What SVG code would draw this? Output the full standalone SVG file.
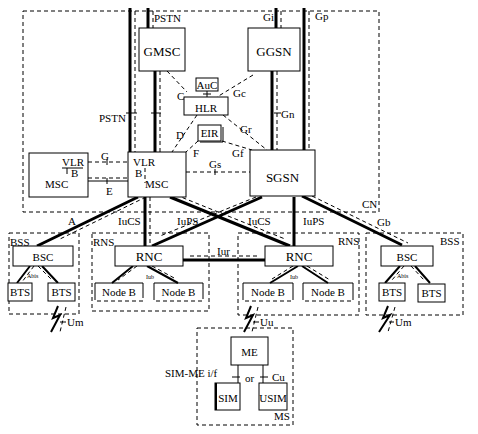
<svg xmlns="http://www.w3.org/2000/svg" width="478" height="434" viewBox="0 0 478 434">
<style>
.box{fill:#fff;stroke:#000;stroke-width:1}
.dbox{fill:none;stroke:#000;stroke-width:1;stroke-dasharray:4 3}
.thick{stroke:#000;stroke-width:3;fill:none}
.med{stroke:#000;stroke-width:2;fill:none}
.dash{stroke:#000;stroke-width:1;stroke-dasharray:4 3;fill:none}
.thin{stroke:#000;stroke-width:1;fill:none}
text{font-family:"Liberation Serif","Times New Roman",serif;fill:#000}
.n{font-size:13px;text-anchor:middle}
.ns{font-size:11px;text-anchor:middle}
.l{font-size:11px}
.s{font-size:6px}
</style>
<rect width="478" height="434" fill="#fff"/>
<g id="containers">
<rect id="CN" class="dbox" x="23" y="11" width="356" height="201"/>
<rect id="BSS-left" class="dbox" x="9" y="233" width="70" height="81"/>
<rect id="RNS-left" class="dbox" x="92" y="233" width="117" height="78"/>
<rect id="RNS-right" class="dbox" x="238" y="233" width="121" height="82"/>
<rect id="BSS-right" class="dbox" x="366" y="233" width="97" height="82"/>
<rect id="MS" class="dbox" x="197" y="328" width="96" height="97"/>
</g>
<g id="connectors">
<path class="thick" d="M130,8V152M148,8V28M155,71V152M276,8V28M272,71V150M304,8V150"/>
<path class="dash" d="M135,11V152M153,11V28M160,71V152M281,11V28M277,71V150M309,11V150"/>
<path class="thin" d="M126,113H137M151,113H161M274,113H281"/>
<path class="dash" d="M88,162H128M88,178H128M186,172H250"/>
<path class="thin" d="M88,181H128M107,159V165M107,178V184M215,169V175"/>
<path class="dash" d="M167,71L187,92M253,75L217,97M197,115L172,152M223,115L267,150M198,141L186,152M222,141L252,150"/>
<path class="thin" d="M207,91V97M203,94H211"/>
<path class="thick" d="M138,197L37,246M145,197V246M170,197L290,246M262,197L152,246M294,197V246M302,196L402,245"/>
<path class="dash" d="M146,197L60,239M150,197V246M176,195L285,239M256,197L160,236M312,196L408,243"/>
<path class="med" d="M30,266L17,283M42,266L58,283M133,266L112,283M147,266L178,283M298,266L270,283M302,266L328,283M400,266L385,283M415,266L430,283"/>
<path class="dash" d="M34,266L22,282M38,266L52,280M137,266L118,280M152,266L176,279M293,266L272,279M307,266L330,280M404,266L392,280M411,266L424,280"/>
<path class="thick" d="M183,260H265"/>
<path class="dash" d="M190,256H258"/>
<polyline class="med" points="58,306 53,318 60,315 51,332"/>
<path class="dash" d="M66,307L60,332"/>
<path class="thin" d="M60,322H66"/>
<polyline class="med" points="251,306 246,318 253,315 244,332"/>
<path class="dash" d="M258,307L252,332"/>
<path class="thin" d="M253,322H259"/>
<polyline class="med" points="388,306 383,318 390,315 379,332"/>
<path class="dash" d="M395,307L388,332"/>
<path class="thin" d="M389,322H394"/>
<path class="thin" d="M238,365V383M263,365V383M232,377H240M260,377H268"/>
</g>
<g id="labels">
<text class="l" x="154" y="22">PSTN</text>
<text class="l" x="263" y="21">Gi</text>
<text class="l" x="315" y="20">Gp</text>
<text class="l" x="99" y="122">PSTN</text>
<text class="l" x="177" y="100">C</text>
<text class="l" x="233" y="97">Gc</text>
<text class="l" x="176" y="139">D</text>
<text class="l" x="240" y="133">Gr</text>
<text class="l" x="193" y="157">F</text>
<text class="l" x="232" y="157">Gf</text>
<text class="l" x="209" y="168">Gs</text>
<text class="l" x="281" y="118">Gn</text>
<text class="l" x="101" y="160">G</text>
<text class="l" x="106" y="195">E</text>
<text class="l" x="362" y="208">CN</text>
<text class="l" x="68" y="225">A</text>
<text class="l" x="118" y="225">IuCS</text>
<text class="l" x="177" y="225">IuPS</text>
<text class="l" x="248" y="225">IuCS</text>
<text class="l" x="303" y="225">IuPS</text>
<text class="l" x="377" y="226">Gb</text>
<text class="l" x="10" y="246">BSS</text>
<text class="l" x="93" y="246">RNS</text>
<text class="l" x="338" y="245">RNS</text>
<text class="l" x="440" y="245">BSS</text>
<text class="l" x="217" y="255">Iur</text>
<text class="s" x="27" y="278">Abis</text>
<text class="s" x="146" y="279">Iub</text>
<text class="s" x="290" y="279">Iub</text>
<text class="s" x="397" y="278">Abis</text>
<text class="l" x="67" y="326">Um</text>
<text class="l" x="260" y="326">Uu</text>
<text class="l" x="395" y="326">Um</text>
<text class="l" x="165" y="377" font-size="12">SIM-ME i/f</text>
<text class="l" x="245" y="382">or</text>
<text class="l" x="272" y="381">Cu</text>
<text class="l" x="274" y="420">MS</text>
</g>
<g id="GMSC"><rect class="box" x="139" y="28" width="46" height="43"/><text class="n" x="162" y="56">GMSC</text></g>
<g id="GGSN"><rect class="box" x="248" y="28" width="52" height="43"/><text class="n" x="274" y="56">GGSN</text></g>
<g id="AuC"><rect class="box" x="196" y="78" width="22" height="13"/><text class="ns" x="207" y="89" font-size="10">AuC</text></g>
<g id="HLR"><rect class="box" x="184" y="97" width="44" height="18"/><text class="ns" x="206" y="112">HLR</text></g>
<g id="EIR"><path class="thin" d="M200,142H223V127"/><rect class="box" x="198" y="125" width="23" height="16"/><text class="ns" x="209.5" y="137" font-size="9">EIR</text></g>
<g id="MSC-VLR"><rect class="box" x="128" y="152" width="58" height="45"/><text class="l" x="133" y="166">VLR</text><text class="l" x="135" y="177">B</text><path class="dash" d="M145,168V183"/><text class="l" x="145" y="188" font-size="12">MSC</text></g>
<g id="SGSN"><rect class="box" x="250" y="150" width="65" height="46"/><text class="n" x="282.5" y="182">SGSN</text></g>
<g id="MSC-left"><rect class="box" x="29" y="153" width="59" height="44"/><text class="l" x="62" y="166">VLR</text><path class="thin" d="M62,168H83M67,168V174"/><text class="l" x="71" y="177">B</text><text class="l" x="45" y="188" font-size="12">MSC</text></g>
<g id="BSC-left"><rect class="box" x="13" y="246" width="60" height="20"/><text class="ns" x="43" y="261">BSC</text></g>
<g id="BTS-l1"><rect class="box" x="8" y="283" width="24" height="18"/><text class="ns" x="20" y="296">BTS</text></g>
<g id="BTS-l2"><rect class="box" x="48" y="283" width="27" height="18"/><text class="ns" x="61.5" y="296">BTS</text></g>
<g id="RNC-left"><rect class="box" x="115" y="246" width="68" height="20"/><text class="n" x="149" y="261">RNC</text></g>
<g id="NodeB-1"><path class="thin" d="M95,296V283H143V296"/><path class="dash" d="M95,296V301H143V296"/><text class="ns" x="119" y="296">Node B</text></g>
<g id="NodeB-2"><path class="thin" d="M154,296V283H203V296"/><path class="dash" d="M154,296V301H203V296"/><text class="ns" x="178.5" y="296">Node B</text></g>
<g id="RNC-right"><rect class="box" x="265" y="246" width="68" height="20"/><text class="n" x="299" y="261">RNC</text></g>
<g id="NodeB-3"><path class="thin" d="M243,296V283H293V296"/><path class="dash" d="M243,296V301H293V296"/><text class="ns" x="268" y="296">Node B</text></g>
<g id="NodeB-4"><path class="thin" d="M303,296V283H353V296"/><path class="dash" d="M303,296V301H353V296"/><text class="ns" x="328" y="296">Node B</text></g>
<g id="BSC-right"><rect class="box" x="381" y="246" width="52" height="20"/><text class="ns" x="407" y="261">BSC</text></g>
<g id="BTS-r1"><rect class="box" x="379" y="283" width="26" height="18"/><text class="ns" x="392" y="296">BTS</text></g>
<g id="BTS-r2"><rect class="box" x="418" y="284" width="27" height="18"/><text class="ns" x="431.5" y="297">BTS</text></g>
<g id="ME"><rect class="box" x="231" y="337" width="37" height="28"/><text class="ns" x="249.5" y="356">ME</text></g>
<g id="SIM"><rect class="box" x="215" y="383" width="25" height="27"/><path class="med" d="M216,383V410"/><text class="ns" x="228" y="402" font-size="10">SIM</text></g>
<g id="USIM"><rect class="box" x="259" y="383" width="28" height="27"/><text class="ns" x="273" y="402" font-size="10">USIM</text></g>
</svg>
